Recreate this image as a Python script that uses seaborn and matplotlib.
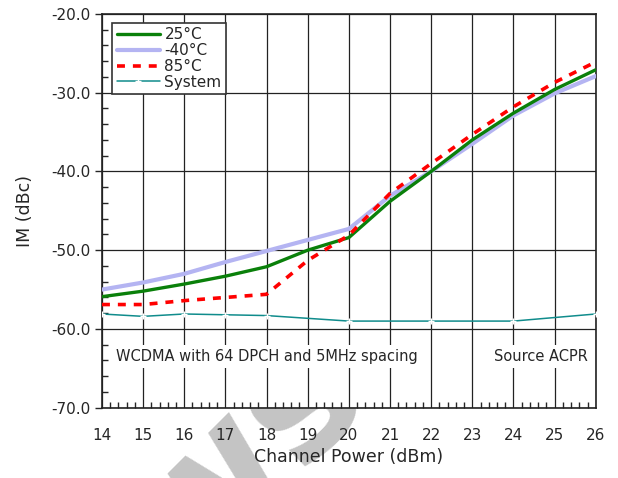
#!/usr/bin/env python3

# import packages
import numpy as np
import pandas as pd
import seaborn as sns
import matplotlib.pyplot as plt
from matplotlib.ticker import MultipleLocator, FormatStrFormatter

# data
power = [14, 15, 16, 17, 18, 19, 20, 21, 22, 23, 24, 25, 26]
im_25c = [-55.9, -55.2, -54.3, -53.3, -52.1, -50.0, -48.4, -43.8, -40.0, -36.0, -32.6, -29.6, -27.1]
im_m40c = [-55.0, -54.1, -53.0, -51.5, -50.1, -48.7, -47.3, -43.1, -40.0, -36.5, -32.9, -30.1, -27.9]
im_85c = [-56.9, -56.9, -56.4, -56.0, -55.6, -51.3, -48.1, -42.8, -39.0, -35.3, -31.8, -28.7, -26.1]
sys_power = [14, 15, 16, 17, 18, 20, 22, 24, 26]
im_system = [-58.1, -58.4, -58.1, -58.2, -58.3, -59.0, -59.0, -59.0, -58.1]

sns.set_style('white')
plt.rcParams['font.family'] = ['DejaVu Sans']

fig = plt.figure(figsize=(6.18, 4.78), dpi=100)
ax = fig.add_axes([0.165, 0.147, 0.799, 0.824])

# faint watermark, sits behind the axes
wm = fig.text(0.15, -0.2, 'ws', rotation=45, fontsize=125, color='#c4c4c4',
              weight='bold')
wm.set_zorder(-5)

sns.lineplot(x=power, y=im_m40c, ax=ax, color='#b4b4f2', lw=3, label='-40°C', zorder=3)
sns.lineplot(x=power, y=im_25c, ax=ax, color='#0a800a', lw=2.4, label='25°C', zorder=4)
sns.lineplot(x=power, y=im_85c, ax=ax, color='#ff0000', lw=2.6, label='85°C', zorder=5,
             dashes=False, linestyle=(0, (2.2, 2.2)))
sns.lineplot(x=sys_power, y=im_system, ax=ax, color='#108c8c', lw=1.1, marker='+',
             markersize=5, mew=1, label='System', zorder=3)

ax.set_xlim(14, 26)
ax.set_ylim(-70, -20)
ax.xaxis.set_major_locator(MultipleLocator(1))
ax.xaxis.set_minor_locator(MultipleLocator(0.2))
ax.yaxis.set_major_locator(MultipleLocator(10))
ax.yaxis.set_minor_locator(MultipleLocator(2))
ax.yaxis.set_major_formatter(FormatStrFormatter('%.1f'))
ax.grid(True, which='major', color='#222222', lw=0.9)
ax.set_axisbelow(True)
for s in ax.spines.values():
    s.set_color('#222222')
    s.set_linewidth(1.2)
ax.tick_params(axis='x', which='major', direction='inout', length=9, width=1, labelsize=11, pad=10)
ax.tick_params(axis='x', which='minor', direction='in', length=4, width=1, bottom=True)
ax.tick_params(axis='y', which='major', direction='out', length=5, width=1, labelsize=11, left=True)
ax.tick_params(axis='y', which='minor', direction='in', length=4, width=1, left=True)

ax.set_xlabel('Channel Power (dBm)', fontsize=12.5)
ax.set_ylabel('IM (dBc)', fontsize=12.5, labelpad=12)

box = dict(facecolor='white', edgecolor='none', pad=3)
ax.text(14.35, -63.5, 'WCDMA with 64 DPCH and 5MHz spacing', fontsize=10.5,
        va='center', ha='left', bbox=box, zorder=6)
ax.text(25.8, -63.5, 'Source ACPR', fontsize=10.5, va='center', ha='right',
        bbox=box, zorder=6)

h, l = ax.get_legend_handles_labels()
order = [1, 0, 2, 3]
leg = ax.legend([h[i] for i in order], [l[i] for i in order], loc='upper left',
                bbox_to_anchor=(0.015, 0.985), fontsize=11, frameon=True, fancybox=False,
                borderpad=0.3, labelspacing=0.05, handlelength=2.8, handletextpad=0.3,
                borderaxespad=0.2)
leg.get_frame().set_edgecolor('#333333')
leg.get_frame().set_linewidth(1.2)
leg.get_frame().set_alpha(1)

plt.savefig('out.png', dpi=100)
